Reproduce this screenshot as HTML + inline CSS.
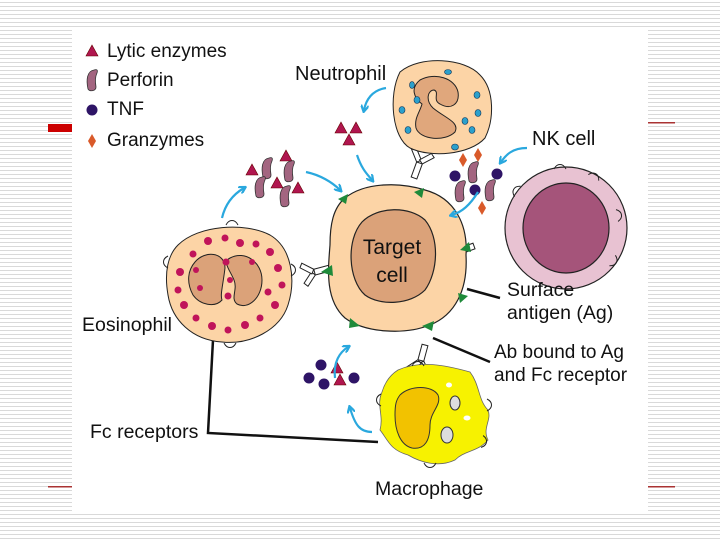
<!DOCTYPE html>
<html><head><meta charset="utf-8"><style>
html,body{margin:0;padding:0}
body{width:720px;height:540px;overflow:hidden;background:#fff repeating-linear-gradient(to bottom,#fff 0 2px,#d9d9d9 2px 3px,#fff 3px 4px);position:relative}
#panel{position:absolute;left:72px;top:28px;width:576px;height:483px;background:#fff}
svg{position:absolute;left:0;top:0}
text{font-family:"Liberation Sans",sans-serif;fill:#111}
</style></head><body>
<div id="panel"></div>
<svg width="720" height="540" viewBox="0 0 720 540">
<defs>
<marker id="ah" markerWidth="8" markerHeight="8" refX="5" refY="4" orient="auto" markerUnits="userSpaceOnUse"><path d="M0,0 L7,4 L0,8" fill="none" stroke="#2aa8de" stroke-width="2.2"/></marker>
<g id="tri"><path d="M0,-6 L6,5 L-6,5Z" fill="#b0164f" stroke="#600" stroke-width="0.6"/></g>
<g id="perf"><path d="M2,-10 C-5,-9 -6,0 -4,9 C-2,12 4,11 4,7 C3,1 3,-3 5,-7 C6,-10 5,-11 2,-10Z" fill="#a36580" stroke="#333" stroke-width="0.8"/></g>
<g id="tnf"><circle r="5.5" fill="#2e1466"/></g>
<g id="gz"><path d="M0,-7 L4,0 L0,7 L-4,0Z" fill="#d95a2a"/></g>
<g id="ab" stroke="#222" stroke-width="1" fill="#fff"><path d="M-3,0 L-3,-16 L3,-16 L3,0Z"/><path d="M-3,-16 L-12,-26 L-8,-29 L1,-19Z"/><path d="M3,-16 L12,-26 L8,-29 L-1,-19Z"/></g>
<path id="hair" d="M-6,3 C-3,-3 3,-3 6,3" fill="none" stroke="#222" stroke-width="1"/>
</defs>
<rect x="48" y="124" width="24" height="8" fill="#c00"/>
<rect x="648" y="122" width="27" height="1.5" fill="#a33"/>
<rect x="48" y="486" width="24" height="1.5" fill="#a33"/>
<rect x="648" y="486" width="27" height="1.5" fill="#a33"/>

<!-- legend -->
<use href="#tri" x="92" y="51"/>
<use href="#perf" x="92" y="80"/>
<use href="#tnf" x="92" y="110"/>
<use href="#gz" x="92" y="141"/>
<text x="107" y="57" font-size="19">Lytic enzymes</text>
<text x="107" y="86" font-size="19">Perforin</text>
<text x="107" y="115" font-size="19">TNF</text>
<text x="107" y="146" font-size="19">Granzymes</text>

<!-- connector lines -->
<path d="M213,340 L208,433 L378,442" fill="none" stroke="#111" stroke-width="2.5"/>
<path d="M467,289 L500,298" stroke="#111" stroke-width="2.5"/>
<path d="M433,338 L490,362" stroke="#111" stroke-width="2.5"/>

<!-- antibodies -->
<use href="#ab" transform="translate(414,178) rotate(20)"/>
<use href="#ab" transform="translate(474,246) rotate(-110)"/>
<use href="#ab" transform="translate(330,268) rotate(-105)"/>
<use href="#ab" transform="translate(425,345) rotate(195)"/>

<!-- target cell -->
<path d="M345,198 C365,182 400,182 425,190 C455,198 468,225 466,255 C468,290 455,315 430,325 C405,335 365,333 345,318 C325,300 328,270 330,245 C330,225 333,208 345,198Z" fill="#fcd4a6" stroke="#222" stroke-width="1.2"/>
<path d="M362,222 C378,206 410,206 425,220 C440,238 438,272 425,290 C410,305 380,306 365,295 C348,280 346,240 362,222Z" fill="#dba279" stroke="#222" stroke-width="1.2"/>
<text x="392" y="254" font-size="21" text-anchor="middle">Target</text>
<text x="392" y="282" font-size="21" text-anchor="middle">cell</text>
<g fill="#1f8a3a">
<path d="M338,199 l10,-5 l-2,10z"/><path d="M414,192 l10,-4 l-2,10z"/><path d="M460,250 l9,-8 l2,10z"/><path d="M458,293 l10,3 l-8,7z"/><path d="M422,326 l12,-5 l-2,10z"/><path d="M350,318 l10,8 l-11,2z"/><path d="M321,272 l11,-7 l1,11z"/>
</g>

<!-- neutrophil -->
<path d="M400,72 C420,55 465,58 480,75 C495,90 494,120 485,138 C470,155 430,158 410,148 C392,138 388,95 400,72Z" fill="#fcd4a6" stroke="#222" stroke-width="1"/>
<path d="M420,80 C435,72 455,78 458,92 C460,105 450,110 440,104 C432,100 440,92 434,90 C428,90 425,100 433,108 C445,118 460,122 455,132 C445,142 420,140 416,128 C414,118 420,112 422,104 C414,98 410,88 420,80Z" fill="#e0a77c" stroke="#222" stroke-width="1"/>
<g fill="#2ba0cc" stroke="#135" stroke-width="0.6">
<ellipse cx="448" cy="72" rx="3.5" ry="2.5"/><ellipse cx="412" cy="85" rx="2.5" ry="3.5"/><ellipse cx="417" cy="100" rx="3" ry="3.5"/><ellipse cx="402" cy="110" rx="3" ry="3.5"/><ellipse cx="477" cy="95" rx="3" ry="3.5"/><ellipse cx="478" cy="113" rx="3" ry="3.5"/><ellipse cx="465" cy="121" rx="3" ry="3.5"/><ellipse cx="472" cy="130" rx="3" ry="3.5"/><ellipse cx="408" cy="130" rx="3" ry="3.5"/><ellipse cx="455" cy="147" rx="3.5" ry="3"/>
</g>
<text x="295" y="80" font-size="20">Neutrophil</text>

<!-- NK cell -->
<circle cx="566" cy="228" r="61" fill="#e8c2d2" stroke="#222" stroke-width="1.2"/>
<ellipse cx="566" cy="228" rx="43" ry="45" fill="#a5547a" stroke="#222" stroke-width="1.2"/>
<use href="#hair" transform="translate(560,166) rotate(0)"/>
<use href="#hair" transform="translate(595,175) rotate(30)"/>
<use href="#hair" transform="translate(620,215) rotate(80)"/>
<use href="#hair" transform="translate(615,262) rotate(120)"/>
<use href="#hair" transform="translate(515,190) rotate(-60)"/>
<text x="532" y="145" font-size="20">NK cell</text>

<!-- eosinophil -->
<path d="M178,245 C198,225 245,222 270,235 C292,248 296,280 288,305 C280,330 250,345 222,342 C192,340 172,320 168,295 C164,272 168,255 178,245Z" fill="#fcd4a6" stroke="#222" stroke-width="1"/>
<path d="M195,262 C205,250 225,252 225,268 C223,285 220,295 222,300 C215,308 200,305 193,295 C186,282 188,270 195,262Z" fill="#dba279" stroke="#222" stroke-width="1"/>
<path d="M230,258 C245,250 262,262 262,280 C262,298 248,310 237,304 C230,298 238,290 234,280 C230,270 222,262 230,258Z" fill="#dba279" stroke="#222" stroke-width="1"/>
<g fill="#c0145a">
<circle cx="208" cy="241" r="4"/><circle cx="225" cy="238" r="3.5"/><circle cx="240" cy="243" r="4"/><circle cx="256" cy="244" r="3.5"/><circle cx="270" cy="252" r="4"/><circle cx="193" cy="254" r="3.5"/><circle cx="180" cy="272" r="4"/><circle cx="178" cy="290" r="3.5"/><circle cx="184" cy="305" r="4"/><circle cx="196" cy="318" r="3.5"/><circle cx="212" cy="326" r="4"/><circle cx="228" cy="330" r="3.5"/><circle cx="245" cy="325" r="4"/><circle cx="260" cy="318" r="3.5"/><circle cx="275" cy="305" r="4"/><circle cx="282" cy="285" r="3.5"/><circle cx="278" cy="268" r="4"/><circle cx="226" cy="262" r="3.5"/><circle cx="230" cy="280" r="3"/><circle cx="228" cy="296" r="3.5"/><circle cx="252" cy="262" r="3"/><circle cx="200" cy="288" r="3"/><circle cx="268" cy="292" r="3.5"/><circle cx="196" cy="270" r="3"/>
</g>
<use href="#hair" transform="translate(232,222)"/>
<use href="#hair" transform="translate(294,270) rotate(90)"/>
<use href="#hair" transform="translate(165,262) rotate(-90)"/>
<use href="#hair" transform="translate(230,346) rotate(180)"/>
<text x="82" y="331" font-size="19.5">Eosinophil</text>

<!-- macrophage -->
<path d="M398,370 C420,360 445,365 470,372 C480,385 478,400 488,410 C492,420 482,428 488,440 C478,452 465,450 455,460 C438,468 420,462 408,455 C390,450 388,440 380,430 C384,415 376,405 382,392 C385,382 390,375 398,370Z" fill="#f7f200" stroke="#666" stroke-width="0.8"/>
<path d="M400,395 C410,385 432,385 438,395 C442,405 430,412 430,425 C430,440 425,450 412,448 C400,445 395,430 395,415 C395,405 396,400 400,395Z" fill="#f2c200" stroke="#333" stroke-width="1"/>
<ellipse cx="455" cy="403" rx="5" ry="7" fill="#ddd" stroke="#333"/><ellipse cx="447" cy="435" rx="6" ry="8" fill="#ddd" stroke="#333"/>
<ellipse cx="449" cy="385" rx="3" ry="2.5" fill="#fff"/><ellipse cx="467" cy="418" rx="3.5" ry="2.5" fill="#fff"/>
<use href="#hair" transform="translate(378,400) rotate(-90)"/>
<use href="#hair" transform="translate(490,405) rotate(90)"/>
<use href="#hair" transform="translate(485,442) rotate(100)"/>
<use href="#hair" transform="translate(430,466) rotate(180)"/>
<use href="#hair" transform="translate(418,363)"/>
<text x="375" y="495" font-size="19.5">Macrophage</text>

<!-- particles -->
<use href="#tri" x="341" y="128"/><use href="#tri" x="356" y="128"/><use href="#tri" x="349" y="140"/>
<use href="#tri" x="286" y="156"/><use href="#tri" x="252" y="170"/><use href="#tri" x="277" y="183"/><use href="#tri" x="298" y="188"/>
<use href="#perf" x="267" y="168"/><use href="#perf" x="289" y="171"/><use href="#perf" x="260" y="187"/><use href="#perf" x="285" y="196"/>
<use href="#gz" x="463" y="160"/><use href="#gz" x="478" y="155"/><use href="#gz" x="482" y="208"/>
<use href="#tnf" x="455" y="176"/><use href="#tnf" x="497" y="174"/><use href="#tnf" x="475" y="190"/>
<use href="#perf" x="473" y="172"/><use href="#perf" x="460" y="191"/><use href="#perf" x="490" y="190"/>
<use href="#tnf" x="321" y="365"/><use href="#tnf" x="309" y="378"/><use href="#tnf" x="324" y="384"/><use href="#tnf" x="354" y="378"/>
<use href="#tri" x="337" y="368"/><use href="#tri" x="340" y="380"/>

<!-- blue arrows -->
<g fill="none" stroke="#2aa8de" stroke-width="2.2" marker-end="url(#ah)">
<path d="M386,88 C372,90 366,100 364,110"/>
<path d="M357,155 C362,170 368,175 372,180"/>
<path d="M306,172 C320,175 332,182 340,190"/>
<path d="M222,218 C225,205 232,195 244,188"/>
<path d="M527,148 C512,148 506,155 501,162"/>
<path d="M478,192 C470,205 462,212 452,215"/>
<path d="M335,378 C333,362 340,352 348,347"/>
<path d="M372,432 C360,432 355,425 350,408"/>
</g>

<text x="507" y="296" font-size="19.5">Surface</text>
<text x="507" y="319" font-size="19.5">antigen (Ag)</text>
<text x="494" y="358" font-size="19">Ab bound to Ag</text>
<text x="494" y="381" font-size="19">and Fc receptor</text>
<text x="90" y="438" font-size="19.5">Fc receptors</text>
</svg>
</body></html>
